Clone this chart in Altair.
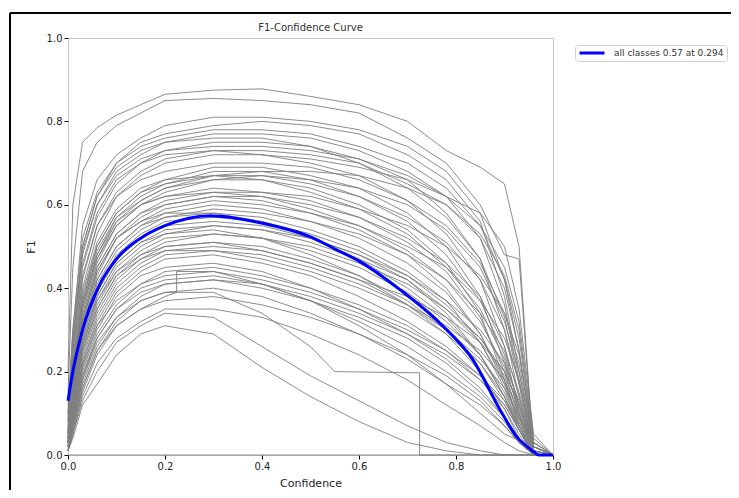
import altair as alt
import pandas as pd

# shared confidence grid for the per-class curves
conf_grid = [0.0, 0.01, 0.03, 0.06, 0.1, 0.15, 0.2, 0.3, 0.4, 0.5, 0.6, 0.7, 0.78, 0.85, 0.9, 0.93, 0.96, 1.0]

class_curves = [
    [0.20, 0.60, 0.75, 0.785, 0.815, 0.84, 0.865, 0.875, 0.878, 0.86, 0.84, 0.80, 0.73, 0.69, 0.65, 0.50, 0.0, 0.0],
    [0.15, 0.45, 0.68, 0.75, 0.79, 0.82, 0.85, 0.855, 0.85, 0.84, 0.82, 0.76, 0.70, 0.60, 0.48, 0.47, 0.0, 0.0],
    [0.10, 0.30, 0.55, 0.66, 0.72, 0.76, 0.79, 0.81, 0.81, 0.80, 0.78, 0.74, 0.68, 0.58, 0.42, 0.25, 0.03, 0.0],
    [0.10, 0.28, 0.50, 0.62, 0.70, 0.75, 0.77, 0.79, 0.80, 0.79, 0.77, 0.72, 0.66, 0.56, 0.38, 0.20, 0.02, 0.0],
    [0.08, 0.25, 0.48, 0.60, 0.68, 0.72, 0.75, 0.77, 0.77, 0.76, 0.73, 0.68, 0.62, 0.52, 0.36, 0.18, 0.01, 0.0],
    [0.12, 0.30, 0.52, 0.63, 0.70, 0.74, 0.76, 0.78, 0.78, 0.77, 0.74, 0.70, 0.64, 0.55, 0.42, 0.28, 0.03, 0.0],
    [0.06, 0.22, 0.45, 0.57, 0.65, 0.70, 0.73, 0.75, 0.75, 0.74, 0.71, 0.66, 0.58, 0.47, 0.30, 0.14, 0.01, 0.0],
    [0.07, 0.24, 0.46, 0.58, 0.66, 0.70, 0.72, 0.73, 0.73, 0.72, 0.70, 0.65, 0.60, 0.52, 0.40, 0.25, 0.02, 0.0],
    [0.05, 0.20, 0.42, 0.55, 0.63, 0.68, 0.71, 0.73, 0.72, 0.70, 0.67, 0.61, 0.53, 0.42, 0.26, 0.10, 0.0, 0.0],
    [0.05, 0.18, 0.40, 0.53, 0.62, 0.67, 0.70, 0.72, 0.72, 0.71, 0.69, 0.66, 0.62, 0.58, 0.50, 0.35, 0.05, 0.0],
    [0.05, 0.18, 0.38, 0.50, 0.58, 0.63, 0.66, 0.69, 0.69, 0.67, 0.64, 0.58, 0.50, 0.38, 0.22, 0.10, 0.0, 0.0],
    [0.04, 0.16, 0.36, 0.48, 0.57, 0.62, 0.65, 0.68, 0.68, 0.66, 0.62, 0.56, 0.48, 0.37, 0.24, 0.12, 0.01, 0.0],
    [0.06, 0.17, 0.37, 0.49, 0.57, 0.61, 0.64, 0.66, 0.66, 0.64, 0.60, 0.54, 0.46, 0.34, 0.18, 0.07, 0.0, 0.0],
    [0.04, 0.15, 0.34, 0.46, 0.55, 0.60, 0.63, 0.66, 0.67, 0.66, 0.64, 0.60, 0.54, 0.45, 0.32, 0.20, 0.02, 0.0],
    [0.05, 0.16, 0.35, 0.47, 0.55, 0.60, 0.62, 0.64, 0.63, 0.61, 0.57, 0.51, 0.44, 0.33, 0.20, 0.09, 0.0, 0.0],
    [0.03, 0.14, 0.33, 0.45, 0.53, 0.58, 0.61, 0.63, 0.63, 0.62, 0.59, 0.55, 0.50, 0.43, 0.34, 0.24, 0.03, 0.0],
    [0.04, 0.15, 0.33, 0.45, 0.53, 0.58, 0.60, 0.62, 0.61, 0.58, 0.54, 0.48, 0.40, 0.29, 0.17, 0.08, 0.0, 0.0],
    [0.03, 0.13, 0.31, 0.43, 0.52, 0.57, 0.60, 0.62, 0.62, 0.60, 0.57, 0.52, 0.46, 0.38, 0.26, 0.14, 0.01, 0.0],
    [0.05, 0.17, 0.36, 0.48, 0.56, 0.60, 0.62, 0.63, 0.62, 0.59, 0.55, 0.49, 0.42, 0.32, 0.21, 0.11, 0.01, 0.0],
    [0.04, 0.14, 0.32, 0.44, 0.52, 0.56, 0.59, 0.61, 0.60, 0.58, 0.55, 0.50, 0.45, 0.37, 0.28, 0.18, 0.02, 0.0],
    [0.04, 0.13, 0.30, 0.42, 0.50, 0.55, 0.58, 0.60, 0.59, 0.56, 0.52, 0.46, 0.39, 0.29, 0.18, 0.08, 0.0, 0.0],
    [0.03, 0.12, 0.29, 0.41, 0.49, 0.54, 0.57, 0.58, 0.57, 0.54, 0.50, 0.44, 0.37, 0.27, 0.16, 0.07, 0.0, 0.0],
    [0.03, 0.12, 0.28, 0.40, 0.48, 0.53, 0.56, 0.57, 0.56, 0.53, 0.49, 0.43, 0.36, 0.28, 0.19, 0.10, 0.01, 0.0],
    [0.04, 0.12, 0.28, 0.39, 0.47, 0.52, 0.55, 0.56, 0.55, 0.52, 0.48, 0.42, 0.34, 0.24, 0.14, 0.06, 0.0, 0.0],
    [0.02, 0.11, 0.27, 0.38, 0.46, 0.51, 0.54, 0.55, 0.54, 0.51, 0.47, 0.42, 0.35, 0.27, 0.17, 0.09, 0.01, 0.0],
    [0.03, 0.11, 0.26, 0.37, 0.45, 0.50, 0.53, 0.55, 0.54, 0.52, 0.48, 0.43, 0.37, 0.30, 0.22, 0.13, 0.02, 0.0],
    [0.02, 0.10, 0.25, 0.36, 0.44, 0.49, 0.52, 0.53, 0.52, 0.49, 0.45, 0.39, 0.32, 0.24, 0.15, 0.07, 0.0, 0.0],
    [0.03, 0.10, 0.25, 0.35, 0.43, 0.48, 0.51, 0.53, 0.52, 0.50, 0.46, 0.41, 0.35, 0.28, 0.20, 0.12, 0.02, 0.0],
    [0.02, 0.09, 0.23, 0.34, 0.42, 0.47, 0.50, 0.51, 0.50, 0.47, 0.43, 0.37, 0.30, 0.22, 0.13, 0.06, 0.0, 0.0],
    [0.02, 0.09, 0.22, 0.33, 0.41, 0.46, 0.49, 0.50, 0.49, 0.46, 0.42, 0.36, 0.30, 0.23, 0.16, 0.09, 0.01, 0.0],
    [0.02, 0.08, 0.21, 0.31, 0.39, 0.44, 0.47, 0.48, 0.46, 0.43, 0.38, 0.32, 0.26, 0.19, 0.12, 0.06, 0.0, 0.0],
    [0.02, 0.08, 0.20, 0.30, 0.38, 0.43, 0.45, 0.46, 0.44, 0.40, 0.35, 0.29, 0.23, 0.16, 0.09, 0.04, 0.0, 0.0],
    [0.01, 0.07, 0.19, 0.29, 0.36, 0.41, 0.44, 0.45, 0.43, 0.40, 0.36, 0.31, 0.25, 0.18, 0.11, 0.05, 0.0, 0.0],
    [0.02, 0.07, 0.18, 0.28, 0.35, 0.40, 0.42, 0.43, 0.41, 0.37, 0.32, 0.26, 0.20, 0.14, 0.08, 0.03, 0.0, 0.0],
    [0.01, 0.06, 0.17, 0.26, 0.33, 0.38, 0.41, 0.42, 0.40, 0.37, 0.33, 0.28, 0.22, 0.15, 0.09, 0.04, 0.0, 0.0],
    [0.01, 0.06, 0.16, 0.25, 0.32, 0.37, 0.39, 0.40, 0.38, 0.34, 0.29, 0.23, 0.17, 0.12, 0.07, 0.03, 0.0, 0.0],
    [0.01, 0.05, 0.15, 0.24, 0.31, 0.35, 0.37, 0.38, 0.36, 0.33, 0.29, 0.24, 0.19, 0.13, 0.07, 0.03, 0.0, 0.0],
    [0.01, 0.05, 0.14, 0.22, 0.28, 0.32, 0.35, 0.35, 0.33, 0.29, 0.24, 0.18, 0.12, 0.07, 0.03, 0.01, 0.0, 0.0],
    [0.01, 0.04, 0.12, 0.17, 0.24, 0.29, 0.31, 0.29, 0.21, 0.14, 0.08, 0.03, 0.01, 0.0, 0.0, 0.0, 0.0, 0.0],
    [0.01, 0.05, 0.13, 0.20, 0.27, 0.31, 0.34, 0.33, 0.26, 0.19, 0.13, 0.07, 0.03, 0.01, 0.0, 0.0, 0.0, 0.0],
    [0.08, 0.26, 0.50, 0.62, 0.69, 0.73, 0.75, 0.76, 0.76, 0.74, 0.70, 0.64, 0.57, 0.47, 0.33, 0.17, 0.01, 0.0],
    [0.06, 0.21, 0.43, 0.55, 0.62, 0.66, 0.68, 0.70, 0.70, 0.69, 0.66, 0.61, 0.55, 0.46, 0.34, 0.22, 0.02, 0.0],
    [0.05, 0.19, 0.39, 0.51, 0.59, 0.64, 0.66, 0.67, 0.66, 0.63, 0.59, 0.53, 0.45, 0.35, 0.23, 0.12, 0.01, 0.0],
    [0.03, 0.13, 0.31, 0.42, 0.50, 0.55, 0.57, 0.59, 0.58, 0.56, 0.53, 0.48, 0.42, 0.34, 0.25, 0.15, 0.02, 0.0],
    [0.03, 0.11, 0.27, 0.38, 0.46, 0.51, 0.53, 0.54, 0.52, 0.48, 0.43, 0.36, 0.29, 0.20, 0.11, 0.04, 0.0, 0.0],
    [0.02, 0.10, 0.24, 0.35, 0.43, 0.47, 0.49, 0.49, 0.47, 0.44, 0.40, 0.35, 0.29, 0.22, 0.14, 0.07, 0.0, 0.0],
    [0.02, 0.09, 0.22, 0.32, 0.40, 0.45, 0.48, 0.49, 0.48, 0.45, 0.41, 0.36, 0.31, 0.25, 0.18, 0.10, 0.01, 0.0],
    [0.04, 0.15, 0.35, 0.47, 0.56, 0.61, 0.64, 0.67, 0.68, 0.68, 0.67, 0.64, 0.60, 0.53, 0.43, 0.30, 0.03, 0.0],
    [0.09, 0.27, 0.49, 0.60, 0.67, 0.71, 0.73, 0.74, 0.74, 0.73, 0.71, 0.67, 0.62, 0.55, 0.45, 0.32, 0.04, 0.0],
    [0.02, 0.08, 0.19, 0.28, 0.35, 0.39, 0.41, 0.42, 0.41, 0.38, 0.34, 0.29, 0.24, 0.18, 0.12, 0.06, 0.0, 0.0],
    [0.03, 0.10, 0.26, 0.37, 0.44, 0.48, 0.50, 0.51, 0.49, 0.46, 0.42, 0.38, 0.33, 0.27, 0.20, 0.12, 0.01, 0.0],
    [0.02, 0.09, 0.21, 0.31, 0.37, 0.41, 0.43, 0.44, 0.42, 0.39, 0.35, 0.30, 0.25, 0.19, 0.13, 0.07, 0.0, 0.0],
    [0.04, 0.14, 0.32, 0.44, 0.52, 0.56, 0.58, 0.58, 0.56, 0.52, 0.47, 0.40, 0.33, 0.24, 0.14, 0.06, 0.0, 0.0],
    [0.05, 0.17, 0.37, 0.50, 0.58, 0.63, 0.65, 0.67, 0.67, 0.65, 0.62, 0.57, 0.51, 0.42, 0.30, 0.17, 0.01, 0.0],
    [0.0, 0.0, 0.0, 0.0, 0.0, 0.0, 0.0, 0.0, 0.0, 0.0, 0.0, 0.0, 0.0, 0.0, 0.0, 0.0, 0.0, 0.0],
]

# two classes with abrupt steps
step1_conf = [0.0, 0.01, 0.03, 0.06, 0.1, 0.15, 0.2, 0.3, 0.4, 0.5, 0.55, 0.725, 0.725, 1.0]
step1_f1 = [0.02, 0.07, 0.18, 0.27, 0.33, 0.37, 0.39, 0.39, 0.34, 0.26, 0.20, 0.197, 0.0, 0.0]
step2_conf = [0.0, 0.01, 0.03, 0.06, 0.1, 0.15, 0.2, 0.224, 0.224, 0.3, 0.4, 0.5, 0.6, 0.7, 0.78, 0.85, 0.9, 1.0]
step2_f1 = [0.01, 0.06, 0.16, 0.25, 0.31, 0.35, 0.38, 0.39, 0.44, 0.44, 0.41, 0.37, 0.31, 0.24, 0.17, 0.10, 0.05, 0.0]

# mean curve over all classes
all_conf = [0.0, 0.01, 0.03, 0.066, 0.1, 0.15, 0.2, 0.294, 0.4, 0.5, 0.554, 0.6, 0.685, 0.767, 0.835, 0.891, 0.925, 0.96, 0.97, 1.0]
all_f1 = [0.13, 0.20, 0.30, 0.41, 0.47, 0.52, 0.55, 0.574, 0.556, 0.523, 0.492, 0.465, 0.396, 0.316, 0.228, 0.108, 0.044, 0.008, 0.0, 0.0]
all_label = "all classes 0.57 at 0.294"
chart_title = "F1-Confidence Curve"

rows = []
k = 0
for ci, curve in enumerate(class_curves):
    for c, f in zip(conf_grid, curve):
        rows.append({"cls": ci, "conf": c, "f1": f, "idx": k})
        k += 1
for ci, (cs, fs) in enumerate([(step1_conf, step1_f1), (step2_conf, step2_f1)]):
    for c, f in zip(cs, fs):
        rows.append({"cls": 100 + ci, "conf": c, "f1": f, "idx": k})
        k += 1
grey_df = pd.DataFrame(rows)
blue_df = pd.DataFrame({"conf": all_conf, "f1": all_f1, "series": [all_label] * len(all_conf)})

FONT = "DejaVu Sans"
ticks = [0.0, 0.2, 0.4, 0.6, 0.8, 1.0]
xs = alt.Scale(domain=[0, 1], nice=False, zero=False)
ys = alt.Scale(domain=[0, 1], nice=False, zero=False)

grey = alt.Chart(grey_df).mark_line(strokeWidth=1, color="grey", opacity=0.9).encode(
    x=alt.X("conf:Q", scale=xs, title="Confidence",
            axis=alt.Axis(values=ticks, format=".1f")),
    y=alt.Y("f1:Q", scale=ys, title="F1",
            axis=alt.Axis(values=ticks, format=".1f")),
    detail="cls:N",
    order="idx:Q",
)

blue = alt.Chart(blue_df).mark_line(strokeWidth=3, interpolate="monotone").encode(
    x=alt.X("conf:Q", scale=xs),
    y=alt.Y("f1:Q", scale=ys),
    color=alt.Color("series:N",
                    scale=alt.Scale(domain=[all_label], range=["blue"]),
                    legend=alt.Legend(title=None, orient="none", legendX=507, legendY=7,
                                      symbolType="stroke", symbolSize=625, symbolStrokeWidth=3,
                                      clipHeight=10,
                                      labelFont=FONT, labelFontSize=9, labelColor="#333",
                                      strokeColor="#d0d0d0", fillColor="white", padding=3,
                                      cornerRadius=3, labelOffset=8)),
)

one = pd.DataFrame({"a": [0]})
frame_top = alt.Chart(one).mark_rule(color="black", strokeWidth=2).encode(
    x=alt.value(-58), x2=alt.value(671), y=alt.value(-25))
frame_left = alt.Chart(one).mark_rule(color="black", strokeWidth=2).encode(
    x=alt.value(-58), y=alt.value(-25), y2=alt.value(460))
title_text = alt.Chart(one).mark_text(
    text=chart_title, font=FONT, fontSize=10, color="#333", align="center", baseline="middle"
).encode(x=alt.value(242.5), y=alt.value(-10))

chart = alt.layer(grey, blue, frame_top, frame_left, title_text).properties(
    width=485, height=417,
    autosize=alt.AutoSizeParams(type="none"),
    padding={"left": 60, "top": 30, "right": 178, "bottom": 35},
).configure_view(stroke="#c8c8c8", strokeWidth=1).configure_axis(
    grid=False, domain=False, tickColor="black", tickSize=4, tickWidth=1,
    labelFont=FONT, labelFontSize=10, labelColor="#222", labelPadding=2, labelFlush=False,
    titleFont=FONT, titleFontSize=11, titleFontWeight="normal", titleColor="#222",
).configure_axisX(titlePadding=6).configure_axisY(titlePadding=10)

chart.save("out.html", embed_options={"renderer": "svg", "actions": False})
